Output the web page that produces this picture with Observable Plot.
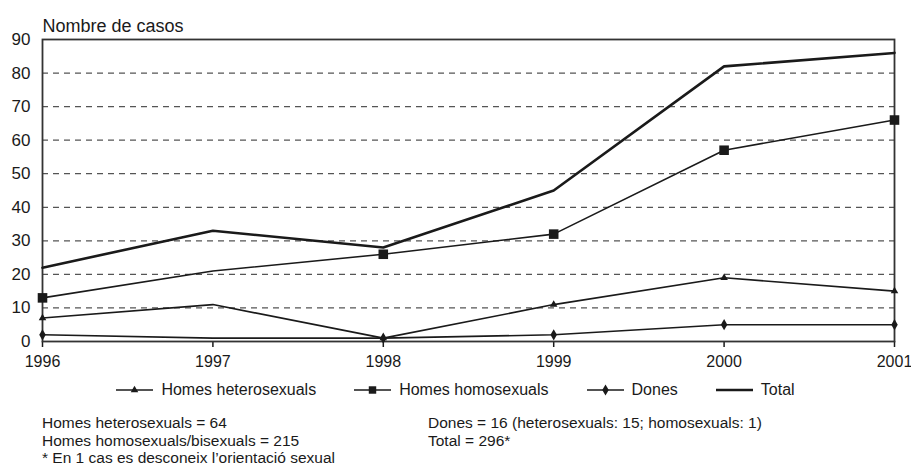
<!DOCTYPE html>
<html><head><meta charset="utf-8">
<script src="https://cdn.jsdelivr.net/npm/d3@7"></script>
<script src="https://cdn.jsdelivr.net/npm/@observablehq/plot@0.6"></script>
<style>
body{margin:0;background:#fff;font-family:"Liberation Sans",Arial,sans-serif;color:#1a1a1a;}
#wrap{position:relative;width:911px;height:468px;overflow:hidden;}
#chart{position:absolute;left:0;top:0;}
#legend{position:absolute;left:0;top:380px;width:911px;display:flex;justify-content:center;gap:38px;font-size:16px;line-height:20px;}
.item{display:flex;align-items:center;gap:8px;}
.notes{position:absolute;top:414px;font-size:15.5px;line-height:17.5px;white-space:nowrap;}
</style>
</head><body>
<div id="wrap">
<div id="chart"></div>
<div id="legend"></div>
<div class="notes" id="notesL" style="left:42px"></div>
<div class="notes" id="notesR" style="left:428px"></div>
</div>
<script>
const years = [1996, 1997, 1998, 1999, 2000, 2001];
const hetero = [7, 11, 1, 11, 19, 15];
const homo = [13, 21, 26, 32, 57, 66];
const dones = [2, 1, 1, 2, 5, 5];
const total = [22, 33, 28, 45, 82, 86];
const markerYears = [1996, 1998, 1999, 2000, 2001];
const yTicks = [0, 10, 20, 30, 40, 50, 60, 70, 80, 90];
const gridLines = [10, 20, 30, 40, 50, 60, 70, 80];
const seriesNames = ["Homes heterosexuals", "Homes homosexuals", "Dones", "Total"];
const seriesSymbols = ["triangle", "square", "diamond", null];
const yLabel = "Nombre de casos";
const notesLeft = ["Homes heterosexuals = 64", "Homes homosexuals/bisexuals = 215", "* En 1 cas es desconeix l’orientació sexual"];
const notesRight = ["Dones = 16 (heterosexuals: 15; homosexuals: 1)", "Total = 296*"];

const seriesValues = [hetero, homo, dones, total];
const rows = [];
seriesNames.forEach((s, i) => years.forEach((y, j) => rows.push({series: s, year: y, value: seriesValues[i][j]})));

const ink = "#1a1a1a";
const lineMarks = seriesNames.map((s, i) => Plot.line(rows.filter(d => d.series === s), {
  x: "year", y: "value", stroke: ink, strokeWidth: s === "Total" ? 2.6 : 1.6, strokeLinejoin: "miter"
}));
const symbolR = {triangle: 2.8, square: 5.4, diamond: 3.4};
const dotMarks = seriesNames.map((s, i) => seriesSymbols[i] ? Plot.dot(rows.filter(d => d.series === s && markerYears.includes(d.year)), {
  x: "year", y: "value", symbol: () => seriesSymbols[i], fill: ink, stroke: "none", r: symbolR[seriesSymbols[i]]
}) : null).filter(Boolean);

const chart = Plot.plot({
  width: 911,
  height: 372,
  marginLeft: 42,
  marginRight: 17,
  marginTop: 39,
  marginBottom: 31,
  style: {fontFamily: '"Liberation Sans", Arial, sans-serif', fontSize: "16px", color: ink, background: "#fff"},
  x: {domain: [1996, 2001]},
  y: {domain: [0, 90]},
  symbol: {type: "identity"},
  marks: [
    Plot.ruleY(gridLines, {stroke: "#555", strokeDasharray: "6,5", strokeWidth: 1.2}),
    Plot.axisX({ticks: years, tickFormat: d => String(d), tickSize: 6, tickPadding: 8, fontSize: 16, label: null, stroke: ink, strokeWidth: 1.5}),
    Plot.axisY({ticks: yTicks, tickSize: 0, tickPadding: 12, fontSize: 17, label: null}),
    Plot.frame({stroke: "#333", strokeWidth: 1.8}),
    ...lineMarks,
    ...dotMarks,
    Plot.text([yLabel], {frameAnchor: "top-left", textAnchor: "start", lineAnchor: "bottom", dy: -8, fontSize: 18, fill: ink})
  ]
});
document.getElementById("chart").appendChild(chart);

// legend
const legend = document.getElementById("legend");
const symPath = {
  triangle: d3.symbol(d3.symbolTriangle, Math.PI * 2.8 * 2.8)(),
  square: d3.symbol(d3.symbolSquare, Math.PI * 4.2 * 4.2)(),
  diamond: d3.symbol(d3.symbolDiamond, Math.PI * 3.4 * 3.4)()
};
seriesNames.forEach((s, i) => {
  const item = document.createElement("div");
  item.className = "item";
  const sym = seriesSymbols[i];
  const sw = s === "Total" ? 2.6 : 1.6;
  item.innerHTML = `<svg width="37" height="16" style="overflow:visible"><line x1="0" x2="37" y1="8" y2="8" stroke="${ink}" stroke-width="${sw}"/>${sym ? `<path transform="translate(18.5,8)" d="${symPath[sym]}" fill="${ink}"/>` : ""}</svg><span>${s}</span>`;
  legend.appendChild(item);
});
document.getElementById("notesL").innerHTML = notesLeft.map(t => `<div>${t}</div>`).join("");
document.getElementById("notesR").innerHTML = notesRight.map(t => `<div>${t}</div>`).join("");
</script>
</body></html>
